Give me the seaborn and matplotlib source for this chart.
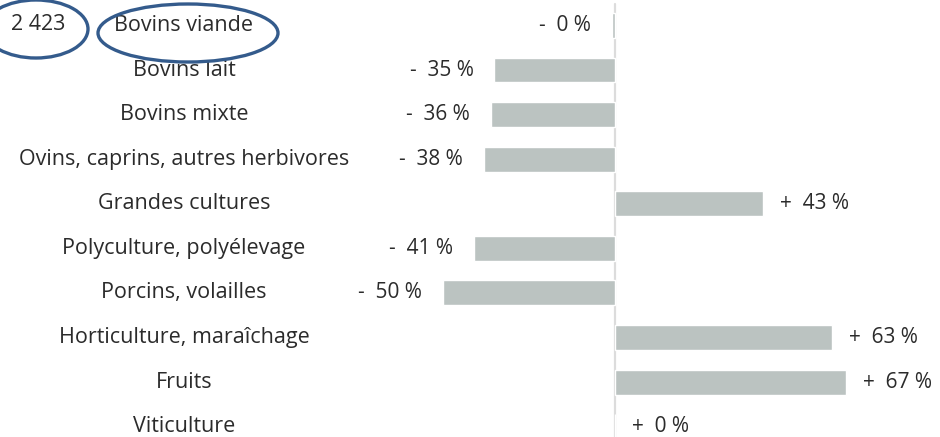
import numpy as np
import pandas as pd
import matplotlib
matplotlib.use("Agg")
import matplotlib.pyplot as plt
from matplotlib.patches import Ellipse
import seaborn as sns

# donnees
categories = ["Bovins viande", "Bovins lait", "Bovins mixte",
              "Ovins, caprins, autres herbivores", "Grandes cultures",
              "Polyculture, polyélevage", "Porcins, volailles",
              "Horticulture, maraîchage", "Fruits", "Viticulture"]
evolution = [-0.9, -35, -36, -38, 43, -41, -50, 63, 67, 0.1]
effectif = "2 423"

df = pd.DataFrame({"cat": categories, "val": evolution})

sns.set_theme(style="white")
plt.rcParams['font.family'] = ['Open Sans', 'DejaVu Sans']

fig = plt.figure(figsize=(9.4, 4.37), dpi=100)
ax = fig.add_axes([0, 0, 1, 1])

sns.barplot(data=df, x="val", y="cat", orient="h", color="#bbc3c1",
            saturation=1, width=0.56, ax=ax, zorder=3)

# echelle : 0 a 615 px, ~3.45 px par %
ax.set_xlim(-615 / 3.45, (940 - 615) / 3.45)
ax.set_ylim(9.23, -0.57)
ax.axvline(0, ymin=0, ymax=1 - 4 / 437, color="#dcdcdc", lw=1.6, zorder=0)

for s in ax.spines.values():
    s.set_visible(False)
ax.set_xticks([])
ax.set_yticks([])
ax.set_xlabel("")
ax.set_ylabel("")

txt = "#2b2b2b"
for i, (c, v) in enumerate(zip(categories, evolution)):
    ax.text(184 / 940, i, c, transform=ax.get_yaxis_transform(),
            ha="center", va="center", fontsize=15.5, color=txt)
    lab = ("+  " if v >= 0 else "-  ") + "%d %%" % int(abs(v))
    if v >= 0:
        ax.annotate(lab, (v, i), xytext=(12, 0), textcoords="offset points",
                    ha="left", va="center", fontsize=15, color=txt)
    else:
        ax.annotate(lab, (v, i), xytext=(-15, 0), textcoords="offset points",
                    ha="right", va="center", fontsize=15, color=txt)

# effectif + cercles
fig.text(38 / 940, 1 - 25 / 437, effectif, ha="center", va="center",
         fontsize=15.5, color=txt)
blue = "#345b8c"
fig.add_artist(Ellipse((36 / 940, 1 - 29 / 437), 104 / 940, 58 / 437,
                       transform=fig.transFigure, fill=False, ec=blue, lw=2.4))
fig.add_artist(Ellipse((188 / 940, 1 - 33 / 437), 180 / 940, 58 / 437,
                       transform=fig.transFigure, fill=False, ec=blue, lw=2.4))

fig.savefig("out.png", dpi=100)
